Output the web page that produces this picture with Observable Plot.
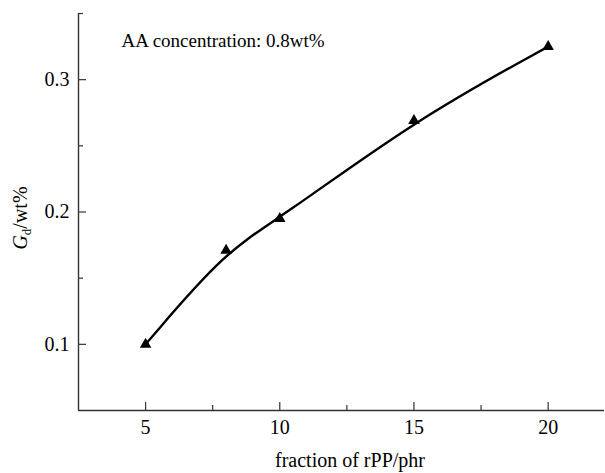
<!DOCTYPE html>
<html>
<head>
<meta charset="utf-8">
<script src="https://cdn.jsdelivr.net/npm/d3@7"></script>
<script src="https://cdn.jsdelivr.net/npm/@observablehq/plot@0.6"></script>
<style>
  html, body { margin: 0; padding: 0; background: #fff; }
  #chart svg { display: block; }
  #chart svg, #chart svg text { font-family: "Liberation Serif", "Times New Roman", "DejaVu Serif", serif !important; }
</style>
</head>
<body>
<div id="chart"></div>
<script>
const fraction = [5, 8, 10, 15, 20];
const gd = [0.100, 0.171, 0.195, 0.269, 0.325];
const xTicks = [5, 10, 15, 20];
const xMinorTicks = [7.5, 12.5, 17.5];
const yTicks = [0.1, 0.2, 0.3];
const yMinorTicks = [0.15, 0.25, 0.35];
const xDomain = [2.5, 22.1];
const yDomain = [0.05, 0.35];
const annotation = ["AA concentration: 0.8wt%"];
const xLabel = "fraction of rPP/phr";

const data = fraction.map((x, i) => ({x, y: gd[i]}));
const axisColor = "#333";
const serif = "Liberation Serif, Times New Roman, DejaVu Serif, serif";

const plot = Plot.plot({
  width: 605,
  height: 473,
  marginLeft: 78,
  marginTop: 13,
  marginBottom: 63,
  marginRight: 1,
  style: {fontFamily: serif, fontSize: "20px", color: "#000", background: "#fff"},
  x: {domain: xDomain, label: null},
  y: {domain: yDomain, label: null},
  marks: [
    Plot.ruleX([xDomain[0]], {stroke: axisColor, strokeWidth: 1.4}),
    Plot.ruleY([yDomain[0]], {stroke: axisColor, strokeWidth: 1.4}),
    Plot.axisX({ticks: xTicks, tickSize: -8, text: null, stroke: axisColor, strokeWidth: 1.2}),
    Plot.axisX({ticks: xMinorTicks, tickSize: -5, text: null, stroke: axisColor, strokeWidth: 1.2}),
    Plot.axisX({ticks: xTicks, tickSize: 0, tickPadding: 9, label: null, fontSize: 20, fontFamily: serif}),
    Plot.axisY({ticks: yTicks, tickSize: -8, text: null, stroke: axisColor, strokeWidth: 1.2}),
    Plot.axisY({ticks: yMinorTicks, tickSize: -5, text: null, stroke: axisColor, strokeWidth: 1.2}),
    Plot.axisY({ticks: yTicks, tickSize: 0, tickPadding: 9, tickFormat: d3.format(".1f"), label: null, fontSize: 20, fontFamily: serif}),
    Plot.line(data, {x: "x", y: "y", curve: "basis", stroke: "#000", strokeWidth: 2.4}),
    Plot.dot(data, {x: "x", y: "y", symbol: "triangle", r: 4.3, fill: "#000", stroke: "none"}),
    Plot.text(annotation, {frameAnchor: "top-left", dx: 43, dy: 27, textAnchor: "start", lineAnchor: "middle", fontSize: 19, fontFamily: serif})
  ]
});

document.getElementById("chart").appendChild(plot);

const svg = d3.select(plot);
svg.attr("font-family", serif);
// x axis label
svg.append("text")
  .attr("x", 350)
  .attr("y", 467)
  .attr("text-anchor", "middle")
  .attr("font-size", 20)
  .attr("font-family", serif)
  .attr("fill", "#000")
  .text(xLabel);
// y axis label: G_d/wt%
const yl = svg.append("text")
  .attr("transform", "translate(27,218) rotate(-90)")
  .attr("text-anchor", "middle")
  .attr("font-size", 20)
  .attr("font-family", serif)
  .attr("fill", "#000");
yl.append("tspan").attr("font-style", "italic").text("G");
yl.append("tspan").attr("font-size", 13).attr("dy", 4).text("d");
yl.append("tspan").attr("dy", -4).text("/wt%");
</script>
</body>
</html>
